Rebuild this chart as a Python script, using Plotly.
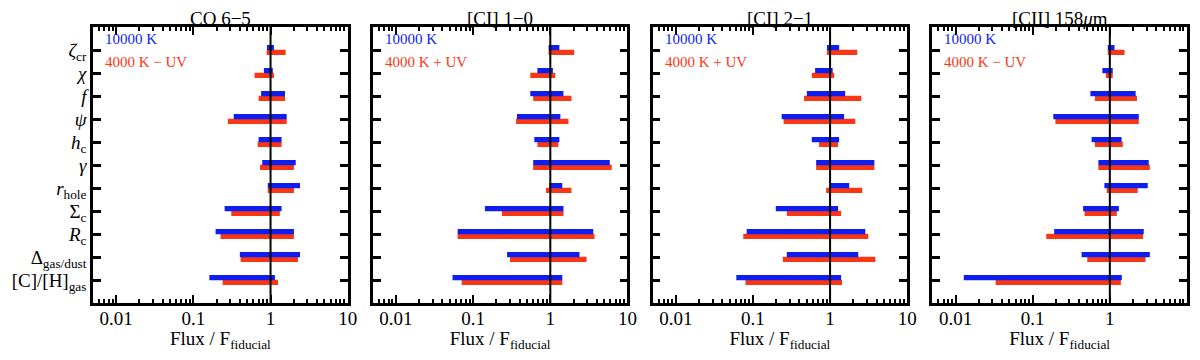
import numpy as np
import plotly.graph_objects as go
from plotly.subplots import make_subplots

# parameter labels (top to bottom)
params = ['<i>ζ</i><sub>cr</sub>', '<i>χ</i>', '<i>f</i>', '<i>ψ</i>', '<i>h</i><sub>c</sub>',
          '<i>γ</i>', '<i>r</i><sub>hole</sub>', 'Σ<sub>c</sub>', '<i>R</i><sub>c</sub>',
          'Δ<sub>gas/dust</sub>', '[C]/[H]<sub>gas</sub>']

titles = ['CO 6−5', '[CI] 1−0', '[CI] 2−1', '[CII] 158<i>μ</i>m']
red_labels = ['4000 K − UV', '4000 K + UV', '4000 K + UV', '4000 K − UV']

# flux ranges (low, high): 10000 K (blue) and 4000 K +/- UV (red)
co65_blue_lo = [0.90, 0.82, 0.755, 0.333, 0.70, 0.78, 0.92, 0.254, 0.194, 0.40, 0.161]
co65_blue_hi = [1.105, 1.07, 1.54, 1.62, 1.39, 2.12, 2.41, 1.39, 2.01, 2.41, 1.14]
co65_red_lo = [0.89, 0.62, 0.70, 0.28, 0.68, 0.73, 0.92, 0.31, 0.225, 0.41, 0.239]
co65_red_hi = [1.57, 1.105, 1.54, 1.62, 1.39, 2.01, 2.01, 1.32, 2.01, 2.27, 1.25]

ci10_blue_lo = [0.95, 0.68, 0.55, 0.37, 0.62, 0.60, 0.97, 0.142, 0.063, 0.275, 0.054]
ci10_blue_hi = [1.31, 1.08, 1.48, 1.35, 1.31, 5.9, 1.43, 1.48, 3.6, 2.39, 1.43]
ci10_red_lo = [0.95, 0.55, 0.60, 0.36, 0.68, 0.60, 0.88, 0.236, 0.063, 0.30, 0.071]
ci10_red_hi = [2.04, 1.16, 1.88, 1.72, 1.27, 6.25, 1.88, 1.48, 3.74, 2.95, 1.43]

ci21_blue_lo = [0.91, 0.64, 0.50, 0.236, 0.58, 0.66, 1.0, 0.198, 0.083, 0.275, 0.061]
ci21_blue_hi = [1.31, 1.08, 1.57, 1.52, 1.31, 3.75, 1.77, 1.27, 2.86, 2.32, 1.39]
ci21_red_lo = [0.91, 0.58, 0.46, 0.25, 0.72, 0.66, 0.89, 0.275, 0.075, 0.244, 0.080]
ci21_red_hi = [2.25, 1.13, 2.54, 2.12, 1.27, 3.75, 2.61, 1.39, 3.13, 3.86, 1.43]

cii_blue_lo = [0.94, 0.80, 0.56, 0.185, 0.58, 0.71, 0.85, 0.45, 0.19, 0.43, 0.0128]
cii_blue_hi = [1.15, 1.09, 2.16, 2.37, 1.42, 3.19, 3.1, 1.31, 2.75, 3.3, 1.43]
cii_red_lo = [0.94, 0.89, 0.64, 0.197, 0.64, 0.71, 0.91, 0.47, 0.15, 0.51, 0.0331]
cii_red_hi = [1.55, 1.09, 2.25, 2.37, 1.47, 3.3, 2.3, 1.23, 2.69, 2.9, 1.39]

panels = [
    (co65_blue_lo, co65_blue_hi, co65_red_lo, co65_red_hi),
    (ci10_blue_lo, ci10_blue_hi, ci10_red_lo, ci10_red_hi),
    (ci21_blue_lo, ci21_blue_hi, ci21_red_lo, ci21_red_hi),
    (cii_blue_lo, cii_blue_hi, cii_red_lo, cii_red_hi),
]

blue = 'rgb(15,30,240)'
red = 'rgb(250,55,20)'
serif = 'Liberation Serif'

fig = make_subplots(rows=1, cols=4, horizontal_spacing=0.0229, subplot_titles=titles)
ypos = np.arange(len(params))

for i, (blo, bhi, rlo, rhi) in enumerate(panels):
    col = i + 1
    blo, bhi, rlo, rhi = map(np.array, (blo, bhi, rlo, rhi))
    # red (4000 K) below the tick, blue (10000 K) above it
    fig.add_trace(go.Bar(y=ypos, x=rhi - rlo, base=rlo, orientation='h',
                         width=0.23, offset=-0.01, marker=dict(color=red, line_width=0),
                         showlegend=False), row=1, col=col)
    fig.add_trace(go.Bar(y=ypos, x=bhi - blo, base=blo, orientation='h',
                         width=0.23, offset=-0.22, marker=dict(color=blue, line_width=0),
                         showlegend=False), row=1, col=col)
    # fiducial line at 1
    fig.add_trace(go.Scatter(x=[1, 1], y=[-1, 11], mode='lines',
                             line=dict(color='black', width=2),
                             showlegend=False, hoverinfo='skip'), row=1, col=col)
    xref = 'x domain' if col == 1 else f'x{col} domain'
    yref = 'y domain' if col == 1 else f'y{col} domain'
    fig.add_annotation(text='10000 K', x=0.04, y=0.955, xref=xref, yref=yref,
                       xanchor='left', yanchor='middle', showarrow=False,
                       font=dict(family=serif, size=15, color=blue))
    fig.add_annotation(text=red_labels[i], x=0.04, y=0.875, xref=xref, yref=yref,
                       xanchor='left', yanchor='middle', showarrow=False,
                       font=dict(family=serif, size=15, color=red))
    fig.update_xaxes(type='log', range=[np.log10(0.005), 1], automargin=False,
                     tickvals=[0.01, 0.1, 1, 10], ticktext=['0.01', '0.1', '1', '10'],
                     ticks='inside', ticklen=8, tickwidth=2, tickcolor='black',
                     ticklabelstandoff=-4,
                     minor=dict(ticks='inside', ticklen=4, tickwidth=1.5, tickcolor='black',
                                tickvals=[m * 10.0 ** e for e in (-3, -2, -1, 0)
                                          for m in range(2, 10)]),
                     showline=True, linewidth=2.5, linecolor='black', mirror='ticks',
                     showgrid=False, zeroline=False,
                     tickfont=dict(family=serif, size=19, color='black'),
                     title=dict(text='Flux / F<sub>fiducial</sub>', standoff=4,
                                font=dict(family=serif, size=19, color='black')),
                     row=1, col=col)
    fig.update_yaxes(range=[11, -1], tickvals=list(ypos), ticktext=params,
                     showticklabels=(col == 1), automargin=False,
                     ticks='inside', ticklen=8, tickwidth=2.5, tickcolor='black',
                     showline=True, linewidth=2.5, linecolor='black', mirror='ticks',
                     showgrid=False, zeroline=False,
                     tickfont=dict(family=serif, size=19, color='black'),
                     row=1, col=col)

for ann in fig.layout.annotations[:4]:
    ann.font = dict(family=serif, size=19, color='black')
    ann.yshift = -4

# page body adds an 8 px margin on every side, so the figure is drawn 16 px smaller
fig.update_layout(width=1184, height=344, barmode='overlay',
                  margin=dict(l=85, r=5, t=19, b=49),
                  plot_bgcolor='white', paper_bgcolor='white')

fig.write_html("out.html")
